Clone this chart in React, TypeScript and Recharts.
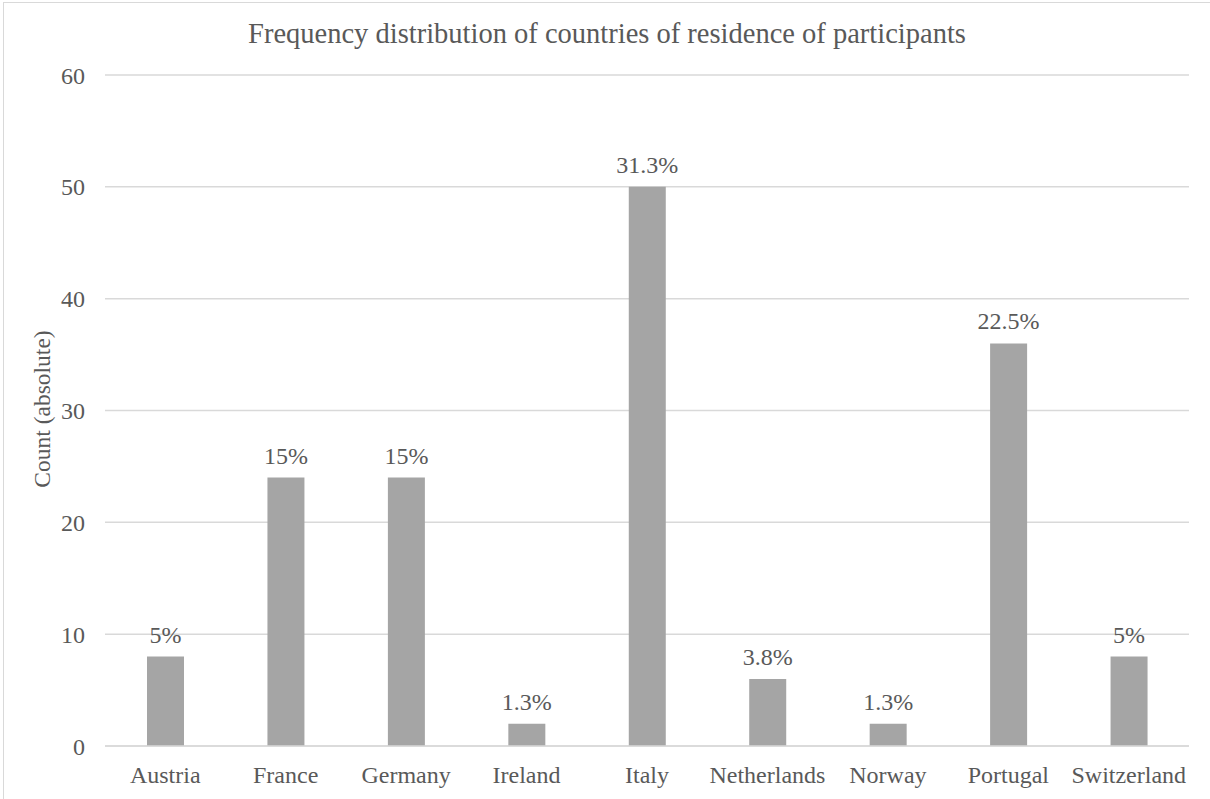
import React from 'react';
import { BarChart, Bar, XAxis, YAxis, CartesianGrid, LabelList } from 'recharts';

const countries = ['Austria', 'France', 'Germany', 'Ireland', 'Italy', 'Netherlands', 'Norway', 'Portugal', 'Switzerland'];
const counts = [8, 24, 24, 2, 50, 6, 2, 36, 8];
const shares = ['5%', '15%', '15%', '1.3%', '31.3%', '3.8%', '1.3%', '22.5%', '5%'];
const yTicks = [0, 10, 20, 30, 40, 50, 60];

const data = countries.map((name, i) => ({ name, count: counts[i], pct: shares[i] }));

const FONT = "'Liberation Serif', 'Times New Roman', serif";
const TEXT = '#595959';
const GRID = '#d9d9d9';

const App: React.FC = () => {
  return (
    <div style={{ position: 'absolute', left: 0, top: 0, width: 1210, height: 799, overflow: 'hidden', background: '#fff', fontFamily: FONT }}>
      <style>{`svg text, .recharts-text { font-family: ${FONT} !important; }`}</style>
      <div style={{ position: 'absolute', left: 3, top: 2, width: 1300, height: 900, border: `1.5px solid ${GRID}` }} />
      <BarChart
        width={1210}
        height={799}
        data={data}
        margin={{ top: 75, right: 21, bottom: 0, left: 45 }}
        style={{ position: 'absolute', left: 0, top: 0 }}
      >
        <CartesianGrid vertical={false} stroke={GRID} strokeWidth={1.5} />
        <XAxis
          dataKey="name"
          height={53}
          axisLine={{ stroke: GRID, strokeWidth: 1.5 }}
          tickLine={false}
          tickSize={0}
          tickMargin={20}
          interval={0}
          tick={{ fill: TEXT, fontSize: 24 }}
        />
        <YAxis
          width={60}
          domain={[0, 60]}
          ticks={yTicks}
          axisLine={false}
          tickLine={false}
          tickSize={0}
          tickMargin={20}
          tick={{ fill: TEXT, fontSize: 24 }}
        />
        <Bar dataKey="count" fill="#a5a5a5" barSize={37} isAnimationActive={false}>
          <LabelList dataKey="pct" position="top" offset={14} fill={TEXT} fontSize={24} />
        </Bar>
      </BarChart>
      <svg width={1210} height={799} style={{ position: 'absolute', left: 0, top: 0, pointerEvents: 'none' }}>
        <text x={607} y={43} textAnchor="middle" fill={TEXT} fontSize={28.5}>
          Frequency distribution of countries of residence of participants
        </text>
        <text transform="translate(50,409) rotate(-90)" textAnchor="middle" fill={TEXT} fontSize={23.5}>
          Count (absolute)
        </text>
      </svg>
    </div>
  );
};

export default App;
